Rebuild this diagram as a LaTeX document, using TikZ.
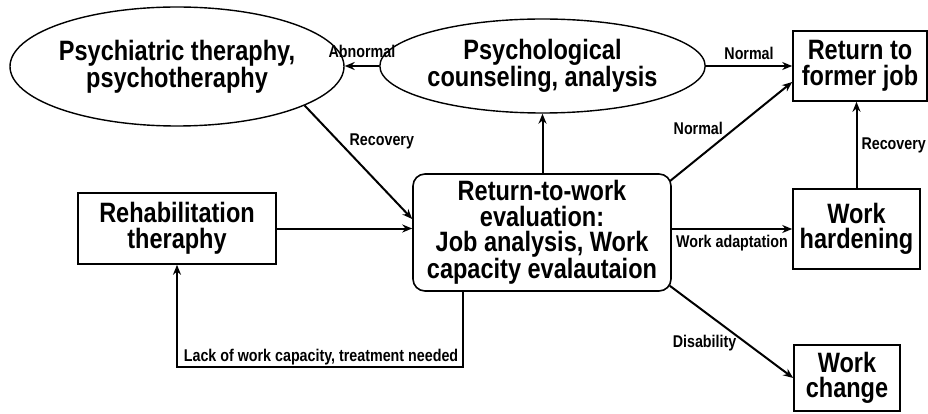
\documentclass[tikz,border=0pt]{standalone}
\usepackage{fontspec}
\setmainfont{Liberation Sans}[FakeStretch=0.84]
\usetikzlibrary{shapes.geometric,arrows.meta,calc}
\tikzset{
  bigtext/.style={font=\fontsize{28}{25.5}\selectfont\bfseries, align=center, inner sep=0pt},
  ellnode/.style={ellipse, draw, line width=1.4pt, bigtext},
  boxnode/.style={rectangle, draw, line width=1.6pt, bigtext},
  lbl/.style={font=\fontsize{17}{17}\selectfont\bfseries, inner sep=1pt},
  arr/.style={line width=2pt, -{Stealth[length=10pt,width=8pt]}}
}
\begin{document}
\begin{tikzpicture}[x=1pt,y=-1pt]
\useasboundingbox (0,0) rectangle (928,414);
\node[ellnode, minimum width=330pt, minimum height=119pt] (psyt) at (177,66.5) {Psychiatric theraphy,\\psychotheraphy};
\node[ellnode, minimum width=289pt, minimum height=94pt] (psyc) at (542.5,66) {Psychological\\counseling, analysis};
\node[boxnode, minimum width=134pt, minimum height=70pt] (ret) at (860,66) {Return to\\former job};
\node[boxnode, rounded corners=12pt, minimum width=258pt, minimum height=117pt] (rtw) at (542,232.5) {Return-to-work\\evaluation:\\Job analysis, Work\\capacity evalautaion};
\node[boxnode, minimum width=198pt, minimum height=71pt] (rehab) at (177,228.5) {Rehabilitation\\theraphy};
\node[boxnode, minimum width=127pt, minimum height=80pt] (wh) at (856.5,229) {Work\\hardening};
\node[boxnode, minimum width=106pt, minimum height=66pt] (wc) at (847,378) {Work\\change};

\draw[arr] (psyc.west) -- (psyc.west -| psyt.east) node[midway, above=6pt, lbl] {Abnormal};
\draw[arr] (psyc.east) -- (psyc.east -| ret.west) node[midway, above=4pt, lbl] {Normal};
\draw[arr] (rtw.north -| psyc.south) -- (psyc.south);
\draw[arr] ([shift={(-2pt,-8pt)}]rtw.north east) -- ([yshift=-16pt]ret.west) node[pos=0.45, anchor=south east, lbl] {Normal};
\draw[arr] (psyt.-17) -- ([yshift=13.5pt]rtw.west) node[pos=0.4, anchor=south west, lbl] {Recovery};
\draw[arr] (rehab.east) -- (rehab.east -| rtw.west);
\draw[arr] ([xshift=51pt]rtw.south west) -- ++(0,75) node[anchor=south east, xshift=-3pt, lbl] {Lack of work capacity, treatment needed} -| (rehab.south);
\draw[arr] (wh.north) -- (wh.north |- ret.south) node[midway, right=3pt, lbl] {Recovery};
\draw[arr] (rtw.east |- wh.west) -- (wh.west) node[midway, below=4pt, lbl] {Work adaptation};
\draw[arr] ([shift={(-2pt,6pt)}]rtw.south east) -- (wc.west) node[pos=0.62, anchor=east, xshift=-8pt, lbl] {Disability};
\end{tikzpicture}
\end{document}
